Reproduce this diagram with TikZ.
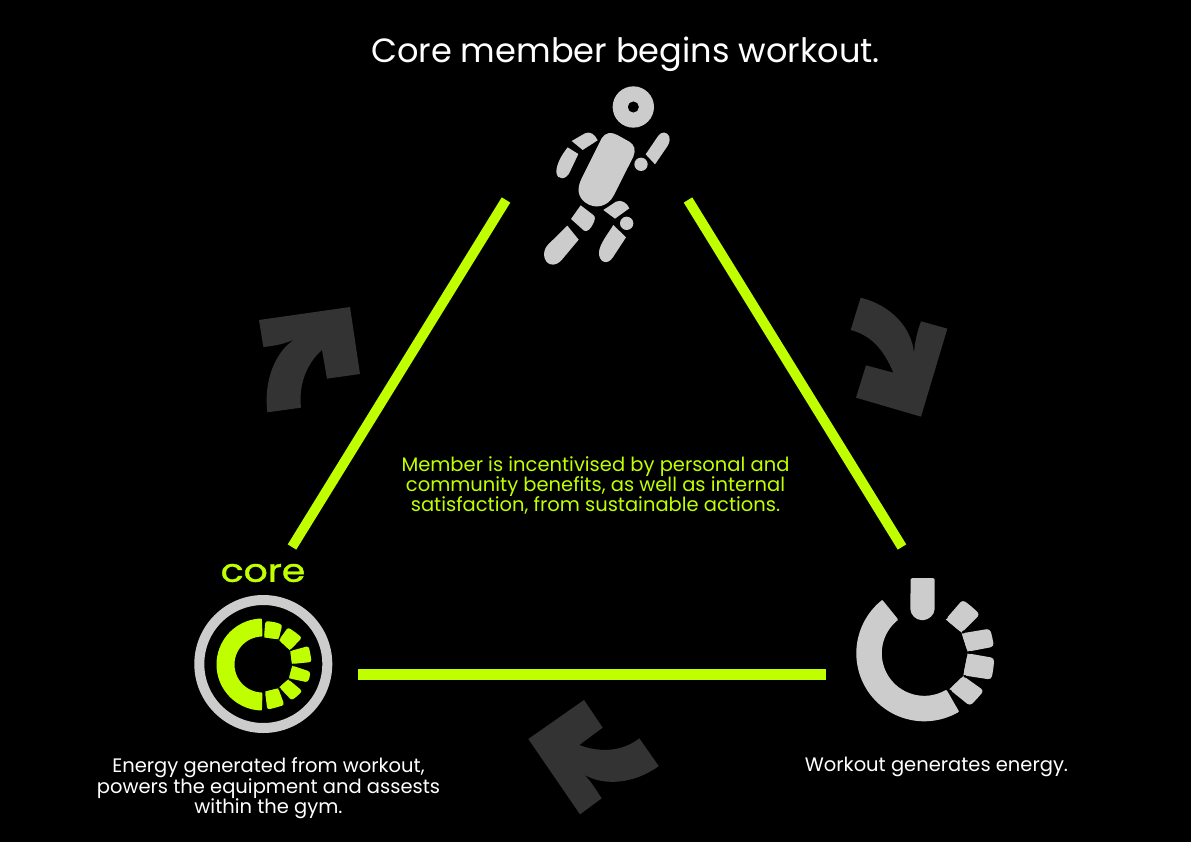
\documentclass[tikz,border=0pt]{standalone}
\usepackage{fontspec}
\setmainfont{Poppins}
\newfontfamily\corefont[FakeStretch=1.18,FakeBold=1.2]{Poppins}
\definecolor{lime}{HTML}{C0FF00}
\definecolor{softgrey}{HTML}{CCCCCC}
\definecolor{arrowgrey}{HTML}{333333}
\tikzset{
  limeline/.style={draw=lime,line cap=butt},
  bodypart/.style={fill=softgrey},
  limepart/.style={fill=lime},
  bigarrow/.style={fill=arrowgrey},
  zoomed/.style={x=0.33333pt,y=-0.33333pt},
  caption/.style={text=white,align=center,inner sep=0pt,font=\fontsize{19.5}{20}\selectfont},
  limecaption/.style={caption,text=lime}
}
% centre x, centre y, inner r, outer r, from angle, to angle, colour
\newcommand{\ringpiece}[7]{%
  \fill[#7,draw=#7,line width=2pt,line join=round]
    plot[domain=#5:#6,samples=70] ({#1+#4*cos(\x)},{#2-#4*sin(\x)})
    -- plot[domain=#6:#5,samples=70] ({#1+#3*cos(\x)},{#2-#3*sin(\x)}) -- cycle;}
% wedge: rounded polygon, plus a triangle that keeps the inner corners sharp
\newcommand{\ringwedge}[7]{%
  \fill[#1,rounded corners=#2] #3 -- #4 -- #5 -- #6 -- #7 -- cycle;
  \fill[#1] #3 -- #5 -- #7 -- cycle;}
\begin{document}
\begin{tikzpicture}[x=1pt,y=-1pt]
\useasboundingbox (0,0) rectangle (1191,842);
\fill[black] (0,0) rectangle (1191,842);

% triangle ends
\coordinate (topL) at (506,200);
\coordinate (leftT) at (292,547);
\coordinate (topR) at (688,200);
\coordinate (rightT) at (902,547);
\coordinate (leftB) at (358,674);
\coordinate (rightB) at (826,674);
\draw[limeline,line width=10pt] (topL) -- (leftT);
\draw[limeline,line width=10pt] (topR) -- (rightT);
\draw[limeline,line width=11pt] (leftB) -- (rightB);

% texts
\node[caption,font=\fontsize{33.6}{36}\selectfont] (title) at (625.5,54) {Core member begins workout.};
\node[limecaption] (incentive) at (595.5,485) {Member is incentivised by personal and\\community benefits, as well as internal\\satisfaction, from sustainable actions.};
\node[caption] (energyuse) at (268.5,788) {Energy generated from workout,\\powers the equipment and assests\\within the gym.};
\node[caption] (energygen) at (936.5,767) {Workout generates energy.};
\node[text=lime,inner sep=0pt,font=\fontsize{32}{32}\corefont\selectfont] (corelabel) at (263,573) {core};

% runner
\begin{scope}[shift={(530pt,-75pt)},zoomed]
  \fill[softgrey,even odd rule] (310,96) circle[radius=62] (310,96) circle[radius=17];
  \fill[softgrey] (333,268) circle[radius=20];
  \fill[softgrey] (290,445) circle[radius=20];
  \fill[bodypart] (215,190) .. controls (225,172) and (245,170) .. (262,180) -- (298,200)
    .. controls (314,210) and (318,225) .. (310,245) -- (252,360)
    .. controls (235,395) and (195,405) .. (165,382)
    .. controls (143,365) and (140,340) .. (155,310) -- cycle;
  \fill[bodypart] (347,238) -- (385,182) .. controls (395,168) and (412,170) .. (418,185)
    .. controls (421,200) and (415,210) .. (410,217) -- (375,268) -- cycle;
  \fill[bodypart] (125,198) -- (165,175) .. controls (180,168) and (195,178) .. (203,196)
    -- (158,225) -- cycle;
  \fill[bodypart] (113,217) -- (145,237) -- (120,290) .. controls (110,315) and (80,318) .. (79,290)
    .. controls (80,265) and (95,240) .. (113,217) -- cycle;
  \fill[bodypart] (152,391) -- (190,420) .. controls (197,425) and (195,435) .. (190,445)
    .. controls (182,462) and (172,472) .. (162,467) -- (123,432) -- cycle;
  \fill[bodypart] (112,452) -- (146,494) -- (95,555) .. controls (75,578) and (45,572) .. (42,540)
    .. controls (42,525) and (48,515) .. (55,508) -- cycle;
  \fill[bodypart] (220,405) -- (258,380) .. controls (275,372) and (292,385) .. (298,400)
    -- (255,431) -- cycle;
  \fill[bodypart] (250,450) -- (288,487) -- (248,548) .. controls (232,572) and (205,562) .. (207,530)
    .. controls (210,505) and (235,475) .. (250,450) -- cycle;
\end{scope}

% core logo
\node[draw=softgrey,line width=10pt,circle,minimum size=128pt,inner sep=0pt] (corering) at (263.3,664) {};
\ringpiece{262.5}{664.5}{29}{45}{92}{268}{lime}
\begin{scope}[shift={(180pt,-550pt)},zoomed]
  \ringwedge{limepart}{2.5pt}{(252,262)}{(256,213)}{(283,216)}{(307,224)}{(296,268)}
  \ringwedge{limepart}{2.5pt}{(297,270)}{(324,232)}{(346,247)}{(366,263)}{(330,301)}
  \ringwedge{limepart}{2.5pt}{(331,303)}{(386,288)}{(391,312)}{(395,336)}{(336,342)}
  \ringwedge{limepart}{2.5pt}{(337,347)}{(391,365)}{(389,382)}{(383,397)}{(327,385)}
  \ringwedge{limepart}{2.5pt}{(325,388)}{(367,423)}{(352,438)}{(335,451)}{(298,412)}
  \ringwedge{limepart}{2.5pt}{(295,415)}{(313,465)}{(290,472)}{(262,479)}{(255,425)}
\end{scope}

% power icon
\ringpiece{924.3}{653.3}{43.5}{67}{129}{300}{softgrey}
\begin{scope}[shift={(845pt,-570pt)},zoomed]
  \fill[softgrey,rounded corners=1.5pt] (197,24) -- (269,24) -- (269,112) .. controls (269,135) and (250,150) .. (232,150) .. controls (214,150) and (196,135) .. (196,112) -- cycle;
  \ringwedge{softgrey}{3.5pt}{(302,148)}{(353,89)}{(380,110)}{(405,133)}{(350,188)}
  \ringwedge{softgrey}{3.5pt}{(350,190)}{(435,176)}{(442,202)}{(447,230)}{(368,245)}
  \ringwedge{softgrey}{3.5pt}{(368,250)}{(448,264)}{(445,297)}{(439,329)}{(355,316)}
  \ringwedge{softgrey}{3.5pt}{(355,318)}{(417,362)}{(397,385)}{(375,408)}{(313,358)}
\end{scope}

% rotation arrows
\begin{scope}[shift={(250pt,-295pt)},zoomed]
  \fill[bigarrow] (27,75) -- (300,36) -- (330,237) -- (231,251) -- (216,165)
    .. controls (170,205) and (145,270) .. (153,338) -- (52,352)
    .. controls (40,250) and (80,165) .. (137,131)
    .. controls (110,145) and (80,152) .. (40,156) -- cycle;
\end{scope}
\begin{scope}[shift={(840pt,-290pt)},zoomed]
  \fill[bigarrow] (62,23) .. controls (150,45) and (215,110) .. (222,190)
    .. controls (225,150) and (232,125) .. (243,94) -- (322,116) -- (243,380) -- (48,323) -- (78,226) -- (160,248)
    .. controls (130,175) and (90,135) .. (32,120) -- cycle;
\end{scope}
\begin{scope}[shift={(520pt,-690pt)},zoomed]
  \fill[bigarrow] (192,30) -- (248,113) -- (178,165)
    .. controls (230,185) and (300,190) .. (358,145) -- (416,228)
    .. controls (340,285) and (240,290) .. (182,247)
    .. controls (205,260) and (225,295) .. (245,325) -- (180,373) -- (25,147) -- cycle;
\end{scope}
\end{tikzpicture}
\end{document}
